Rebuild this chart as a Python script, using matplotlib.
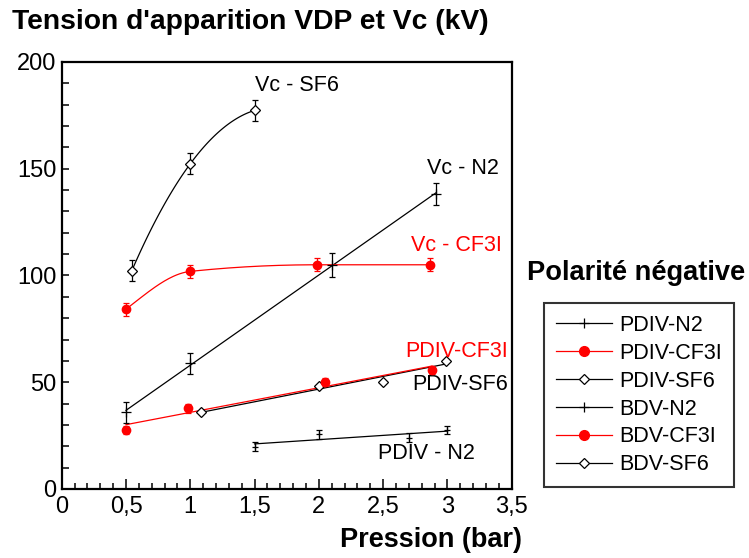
import numpy as np
import matplotlib
matplotlib.use('Agg')
import matplotlib.pyplot as plt
from matplotlib.lines import Line2D

plt.rcParams['font.family'] = ['Liberation Sans', 'DejaVu Sans']

# Vc (tension de claquage)
vc_sf6_p = [0.545, 1.0, 1.5]
vc_sf6_v = [102.2, 152.3, 177.3]
vc_sf6_err = [5, 5, 5]

vc_n2_p = [0.5, 1.0, 2.1, 2.91]
vc_n2_v = [35.9, 58.9, 105.0, 138.1]
vc_n2_err = [5, 5, 5.5, 5]

vc_cf3i_p = [0.5, 1.0, 1.985, 2.865]
vc_cf3i_v = [84.2, 101.9, 105.0, 105.0]
vc_cf3i_err = [3, 3, 3, 3]

# PDIV
pdiv_cf3i_p = [0.5, 0.98, 2.05, 2.88]
pdiv_cf3i_v = [27.7, 37.8, 50.0, 55.8]
pdiv_cf3i_err = [2, 2, 2, 2]

pdiv_sf6_p = [1.08, 2.0, 2.5, 2.99]
pdiv_sf6_v = [35.9, 48.0, 50.0, 60.0]

pdiv_n2_p = [1.5, 2.0, 2.7, 3.0]
pdiv_n2_v = [19.8, 25.6, 24.1, 27.7]
pdiv_n2_err = [2, 2, 2, 2]

xticks = [0, 0.5, 1, 1.5, 2, 2.5, 3, 3.5]
xticklabels = ['0', '0,5', '1', '1,5', '2', '2,5', '3', '3,5']
yticks = [0, 50, 100, 150, 200]

ROUGE = '#ff0000'


def pchip(x, y, xn):
    # courbe lissee monotone entre les points mesures
    x = np.asarray(x, float)
    y = np.asarray(y, float)
    h = np.diff(x)
    d = np.diff(y) / h
    m = np.zeros_like(y)
    m[0] = ((2 * h[0] + h[1]) * d[0] - h[0] * d[1]) / (h[0] + h[1])
    m[-1] = d[-1]
    for k in range(1, len(x) - 1):
        if d[k - 1] * d[k] > 0:
            w1 = 2 * h[k] + h[k - 1]
            w2 = h[k] + 2 * h[k - 1]
            m[k] = (w1 + w2) / (w1 / d[k - 1] + w2 / d[k])
    i = np.clip(np.searchsorted(x, xn) - 1, 0, len(x) - 2)
    t = (xn - x[i]) / h[i]
    h00 = 2 * t**3 - 3 * t**2 + 1
    h10 = t**3 - 2 * t**2 + t
    h01 = -2 * t**3 + 3 * t**2
    h11 = t**3 - t**2
    return h00 * y[i] + h10 * h[i] * m[i] + h01 * y[i + 1] + h11 * h[i] * m[i + 1]


def droite(x, y):
    a, b = np.polyfit(x, y, 1)
    xx = np.array([min(x), max(x)])
    return xx, a * xx + b


fig = plt.figure(figsize=(7.49, 5.58), dpi=100)
ax = fig.add_axes([0.0824, 0.1237, 0.6008, 0.7653])

lw = 0.9
eb = dict(linestyle='none', elinewidth=0.9, capsize=2.5, capthick=0.9, zorder=3)

# Vc - SF6 (parabole)
xs = np.linspace(vc_sf6_p[0], vc_sf6_p[-1], 100)
ax.plot(xs, np.polyval(np.polyfit(vc_sf6_p, vc_sf6_v, 2), xs), color='k', lw=lw)
ax.errorbar(vc_sf6_p, vc_sf6_v, yerr=vc_sf6_err, marker='D', ms=4.7, mfc='white',
            mec='k', mew=0.9, ecolor='k', **eb)

# Vc - N2
xx, yy = droite(vc_n2_p, vc_n2_v)
ax.plot(xx, yy, color='k', lw=lw)
ax.errorbar(vc_n2_p, vc_n2_v, yerr=vc_n2_err, marker='+', ms=7, mec='k', mew=0.9,
            ecolor='k', **eb)

# Vc - CF3I
xs = np.linspace(vc_cf3i_p[0], vc_cf3i_p[-1], 200)
ax.plot(xs, pchip(vc_cf3i_p, vc_cf3i_v, xs), color=ROUGE, lw=lw)
ax.errorbar(vc_cf3i_p, vc_cf3i_v, yerr=vc_cf3i_err, marker='o', ms=6, mfc=ROUGE,
            mec=ROUGE, ecolor=ROUGE, **eb)

# PDIV - SF6
xx, yy = droite(pdiv_sf6_p, pdiv_sf6_v)
ax.plot(xx, yy, color='k', lw=lw)
ax.plot(pdiv_sf6_p, pdiv_sf6_v, linestyle='none', marker='D', ms=4.7, mfc='white',
        mec='k', mew=0.9, zorder=3)

# PDIV - CF3I
xx, yy = droite(pdiv_cf3i_p, pdiv_cf3i_v)
ax.plot(xx, yy, color=ROUGE, lw=lw)
ax.errorbar(pdiv_cf3i_p, pdiv_cf3i_v, yerr=pdiv_cf3i_err, marker='o', ms=6, mfc=ROUGE,
            mec=ROUGE, ecolor=ROUGE, **eb)

# PDIV - N2
xx, yy = droite(pdiv_n2_p, pdiv_n2_v)
ax.plot(xx, yy, color='k', lw=lw)
ax.errorbar(pdiv_n2_p, pdiv_n2_v, yerr=pdiv_n2_err, marker='+', ms=5, mec='k', mew=0.9,
            ecolor='k', **eb)

# etiquettes des courbes
fs = 15.5
ax.text(1.5, 189, 'Vc - SF6', fontsize=fs, va='center')
ax.text(2.84, 150, 'Vc - N2', fontsize=fs, va='center')
ax.text(2.72, 114, 'Vc - CF3I', fontsize=fs, va='center', color=ROUGE)
ax.text(2.67, 64.5, 'PDIV-CF3I', fontsize=fs, va='center', color=ROUGE)
ax.text(2.73, 49, 'PDIV-SF6', fontsize=fs, va='center')
ax.text(2.46, 16.5, 'PDIV - N2', fontsize=fs, va='center')

ax.set_xlim(0, 3.5)
ax.set_ylim(0, 200)
ax.set_xticks(xticks)
ax.set_xticklabels(xticklabels)
ax.set_yticks(yticks)
ax.set_xticks(np.arange(0, 3.51, 0.1), minor=True)
ax.set_yticks(np.arange(0, 201, 10), minor=True)
ax.tick_params(axis='both', which='both', direction='in', top=False, right=False,
               width=1.1, labelsize=17)
ax.tick_params(axis='x', which='major', length=7.2, pad=5)
ax.tick_params(axis='x', which='minor', length=4.3)
ax.tick_params(axis='y', which='both', length=5, pad=4)
for s in ax.spines.values():
    s.set_linewidth(1.6)

fig.text(0.016, 0.96, "Tension d'apparition VDP et Vc (kV)", fontsize=20.3,
         fontweight='bold', va='center', ha='left')
fig.text(0.576, 0.032, 'Pression (bar)', fontsize=19.5, fontweight='bold',
         va='center', ha='center')
fig.text(0.7036, 0.511, 'Polarité négative', fontsize=19.6, fontweight='bold',
         va='center', ha='left')

handles = [
    Line2D([], [], color='k', lw=lw, marker='+', ms=7, mew=0.9),
    Line2D([], [], color=ROUGE, lw=lw, marker='o', ms=7),
    Line2D([], [], color='k', lw=lw, marker='D', ms=4.7, mfc='white', mew=0.9),
    Line2D([], [], color='k', lw=lw, marker='+', ms=7, mew=0.9),
    Line2D([], [], color=ROUGE, lw=lw, marker='o', ms=7),
    Line2D([], [], color='k', lw=lw, marker='D', ms=4.7, mfc='white', mew=0.9),
]
labels = ['PDIV-N2', 'PDIV-CF3I', 'PDIV-SF6', 'BDV-N2', 'BDV-CF3I', 'BDV-SF6']
leg = fig.legend(handles, labels, loc='upper left', bbox_to_anchor=(0.726, 0.457),
                 fontsize=15.5, frameon=True, fancybox=False, edgecolor='k',
                 handlelength=2.6, handletextpad=0.35, labelspacing=0.32,
                 borderpad=0.55, borderaxespad=0)
leg.get_frame().set_linewidth(1.5)

fig.savefig('out.png', dpi=100)
